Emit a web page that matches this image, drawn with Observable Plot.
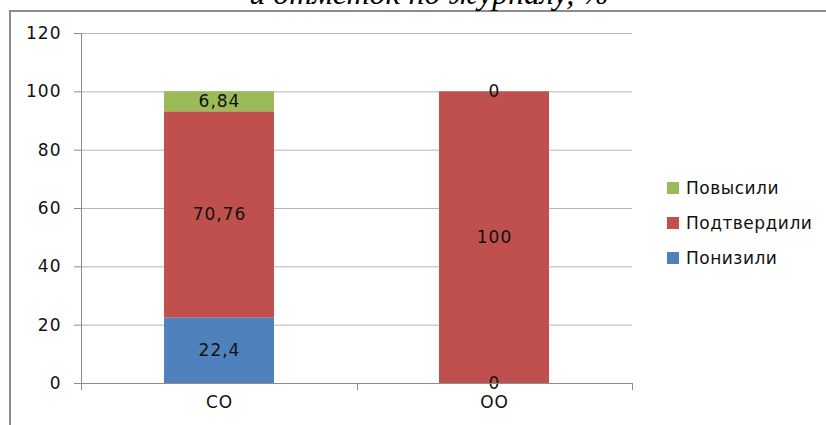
<!DOCTYPE html>
<html>
<head>
<meta charset="utf-8">
<script src="https://cdn.jsdelivr.net/npm/d3@7"></script>
<script src="https://cdn.jsdelivr.net/npm/@observablehq/plot@0.6"></script>
<style>
  html, body { margin: 0; padding: 0; background: #fff; }
  #wrap { position: relative; width: 826px; height: 425px; overflow: hidden; font-family: "DejaVu Sans", sans-serif; }
  #frame { position: absolute; left: 9px; top: 10px; width: 900px; height: 500px; border-left: 2px solid #8c8c8c; border-top: 2px solid #8c8c8c; }
  #title { position: absolute; left: 0; width: 858px; top: -23px; text-align: center; font-family: "Liberation Serif", serif; font-style: italic; font-size: 32px; line-height: 1; color: #000; white-space: nowrap; }
  #chart { position: absolute; left: 0; top: 0; }
  #chart svg text { letter-spacing: 1px; }
  #legend { position: absolute; left: 667px; top: 178px; font-size: 17px; letter-spacing: 0.5px; color: #111; }
  .item { display: flex; align-items: center; height: 35px; margin-top: 0; }
  .sw { width: 12px; height: 12px; margin-right: 7px; }
  .item:first-child { margin-top: -8px; }
</style>
</head>
<body>
<div id="wrap">
  <div id="frame"></div>
  <div id="title">и отметок по журналу, %</div>
  <div id="chart"></div>
  <div id="legend"></div>
</div>
<script>
const categories = ["СО", "ОО"];
const seriesNames = ["Понизили", "Подтвердили", "Повысили"];
const seriesColors = ["#4F81BD", "#C0504D", "#9BBB59"];
const poniziliValues = [22.4, 0];
const podtverdiliValues = [70.76, 100];
const povysiliValues = [6.84, 0];
const yTicks = [0, 20, 40, 60, 80, 100, 120];

const seriesValues = [poniziliValues, podtverdiliValues, povysiliValues];
const data = [];
seriesNames.forEach((s, i) => categories.forEach((c, j) => data.push({cat: c, series: s, value: seriesValues[i][j]})));

const fmt = v => String(v).replace(".", ",");

// Excel-style category boundary ticks below the x axis
function boundaryTicks(index, scales, values, dims) {
  const n = categories.length;
  const x0 = dims.marginLeft, x1 = dims.width - dims.marginRight;
  const y0 = scales.y(0);
  const g = d3.create("svg:g").attr("stroke", "#8c8c8c").attr("stroke-width", 1);
  for (let i = 0; i <= n; i++) {
    const xx = Math.round(x0 + i * (x1 - x0) / n) + 0.5;
    g.append("line").attr("x1", xx).attr("x2", xx).attr("y1", y0).attr("y2", y0 + 7);
  }
  return g.node();
}

const chart = Plot.plot({
  width: 826,
  height: 425,
  marginLeft: 81,
  marginRight: 194,
  marginTop: 33,
  marginBottom: 42,
  style: { fontFamily: "DejaVu Sans, sans-serif", fontSize: "17px", color: "#111", background: "transparent" },
  x: { domain: categories, paddingInner: 0.6, paddingOuter: 0.3, label: null },
  y: { domain: [0, 120], label: null },
  color: { domain: seriesNames, range: seriesColors },
  marks: [
    Plot.gridY(yTicks, { stroke: "#b5b5b5", strokeOpacity: 1 }),
    Plot.barY(data, Plot.stackY({ x: "cat", y: "value", z: "series", fill: "series", order: seriesNames })),
    Plot.text(data, Plot.stackY({ x: "cat", y: "value", z: "series", order: seriesNames, text: d => fmt(d.value), fill: "#111", fontSize: 17 })),
    Plot.frame({ anchor: "left", stroke: "#8c8c8c" }),
    Plot.ruleY([0], { stroke: "#8c8c8c" }),
    boundaryTicks,
    Plot.axisY({ ticks: yTicks, tickSize: 7, tickPadding: 13, stroke: "#8c8c8c", fill: "#111", fontSize: 17, label: null }),
    Plot.axisX({ tickSize: 0, tickPadding: 12, fill: "#111", fontSize: 17, label: null })
  ]
});
document.getElementById("chart").appendChild(chart);

const legend = document.getElementById("legend");
[...seriesNames].reverse().forEach(s => {
  const item = document.createElement("div");
  item.className = "item";
  const sw = document.createElement("div");
  sw.className = "sw";
  sw.style.background = seriesColors[seriesNames.indexOf(s)];
  const t = document.createElement("span");
  t.textContent = s;
  item.appendChild(sw);
  item.appendChild(t);
  legend.appendChild(item);
});
</script>
</body>
</html>
